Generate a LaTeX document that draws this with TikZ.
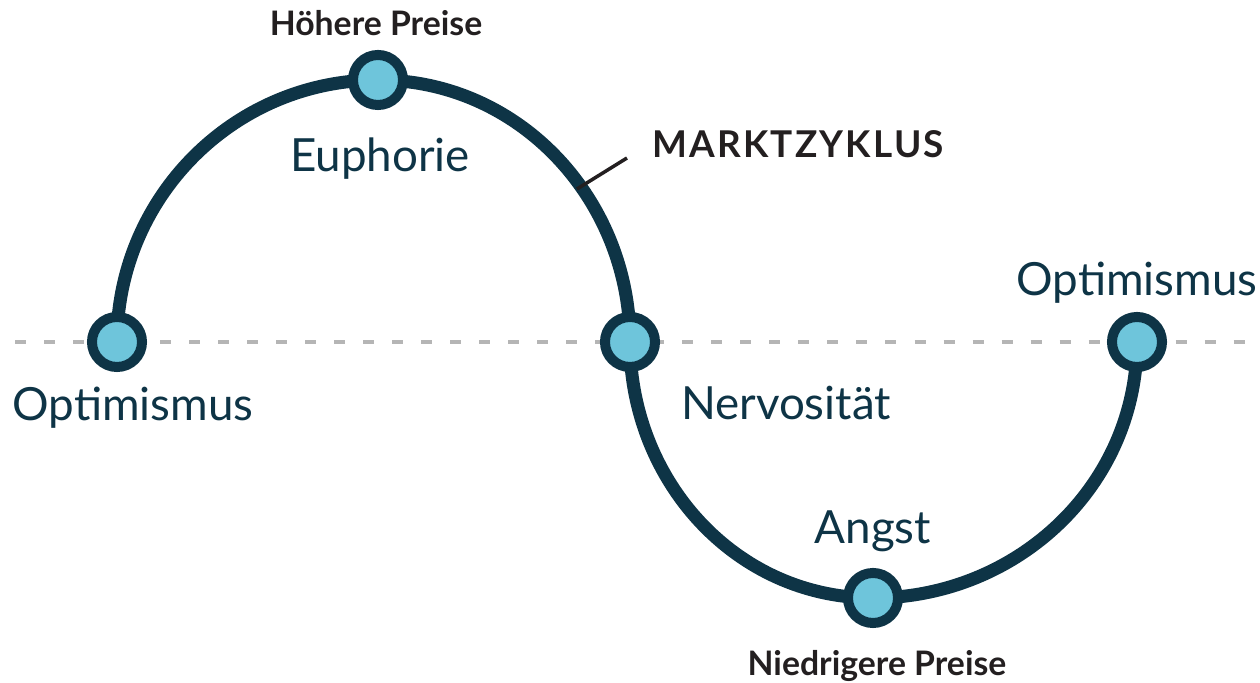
\documentclass[tikz,border=0pt]{standalone}
\usepackage{fontspec}
\setmainfont{Lato}
\newfontfamily\spacedfont[LetterSpace=6]{Lato}
\usetikzlibrary{positioning}

\definecolor{cycnavy}{HTML}{0E3446}
\definecolor{cycblue}{HTML}{6EC5DB}
\definecolor{cycgray}{HTML}{B5B5B5}
\definecolor{cycink}{HTML}{231F20}

\tikzset{
  phase/.style={circle, draw=cycnavy, fill=cycblue, line width=0.1cm, minimum size=0.5cm, inner sep=0pt},
  cycle line/.style={line width=0.13cm, cycnavy},
  mood/.style={text=cycnavy, inner sep=0pt, font=\fontsize{13}{15}\selectfont},
  price/.style={text=cycink, inner sep=0pt, font=\fontsize{9.6}{11}\selectfont\bfseries},
  base line/.style={cycgray, line width=0.04cm, dash pattern=on 0.11cm off 0.18cm},
}

\begin{document}
\begin{tikzpicture}[x=0.01cm, y=-0.01cm]
        \useasboundingbox (0,0) rectangle (1260,683);

        % zero line
        \coordinate (zl) at (15,342);
        \coordinate (zr) at (1252,342);
        \draw[base line] (zl) -- (zr);

        % phases of the cycle
        \coordinate (opt1) at (117,342);
        \coordinate (euph) at (378,80);
        \coordinate (nerv) at (630,342);
        \coordinate (angst) at (873,598);
        \coordinate (opt2) at (1137,342);

        % the cycle
        \draw[cycle line] (opt1) to[out=90,in=180] (euph)
              to[out=0,in=90] (nerv)
              to[out=-90,in=180] (angst)
              to[out=0,in=-90] (opt2);

        %% leader to the title
        \coordinate (leadA) at (577,189);
        \coordinate (leadB) at (627,158);
        \draw[cycink, line width=0.035cm] (leadA) -- (leadB);
        \node[text=cycink, inner sep=0pt, font=\fontsize{10.5}{12}\spacedfont\bfseries] (title) at (798,144.5) {MARKTZYKLUS};

        % dots
        \node[phase] (p1) at (opt1) {};
        \node[phase] (p2) at (euph) {};
        \node[phase] (p3) at (nerv) {};
        \node[phase] (p4) at (angst) {};
        \node[phase] (p5) at (opt2) {};

        % labels
        \node[mood] (l1) at (133,408) {Optimismus};
        \node[mood] (l2) at (380,159) {Euphorie};
        \node[mood] (l3) at (786,403) {Nervosität};
        \node[mood] (l4) at (873,531) {Angst};
        \node[mood] (l5) at (1137,283) {Optimismus};
        \node[price] (hi) at (376,23) {Höhere Preise};
        \node[price] (lo) at (877,666) {Niedrigere Preise};

\end{tikzpicture}
\end{document}
